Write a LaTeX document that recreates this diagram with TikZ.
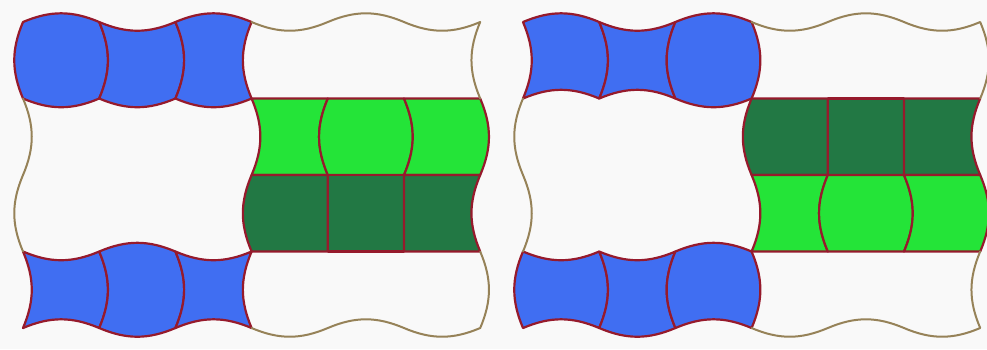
\documentclass[tikz,border=0pt]{standalone}
\usepackage{tikz}
\usepackage{xcolor}

\definecolor{paper}{RGB}{249,249,249}
\definecolor{tileblue}{RGB}{64,110,242}
\definecolor{lightgreen}{RGB}{36,228,56}
\definecolor{darkgreen}{RGB}{34,120,68}
\definecolor{edgered}{RGB}{150,26,44}
\definecolor{rimtan}{RGB}{150,130,88}

\begin{document}
\begin{tikzpicture}[
    x=76.2pt, y=76.5pt,
    tile/.style={draw=edgered, line width=2.2pt, line join=round},
    rim/.style={draw=rimtan, line width=2pt, line join=round, line cap=round},
    bulge/.style={bend left=23},
    dent/.style={bend right=23}
  ]
  \fill[paper] (-0.302,-0.275) rectangle (12.651,4.288);
  \useasboundingbox (-0.302,-0.275) rectangle (12.651,4.288);

  % left panel
  \draw[tile, fill=tileblue] (0,4) to[bulge] (1,4) to[bulge] (1,3) to[bulge] (0,3) to[bulge] cycle;
  \draw[tile, fill=tileblue] (1,4) to[dent] (2,4) to[bulge] (2,3) to[bulge] (1,3) to[dent] cycle;
  \draw[tile, fill=tileblue] (2,4) to[bulge] (3,4) to[dent] (3,3) to[bulge] (2,3) to[dent] cycle;
  \draw[tile, fill=tileblue] (0,1) to[dent] (1,1) to[bulge] (1,0) to[dent] (0,0) to[dent] cycle;
  \draw[tile, fill=tileblue] (1,1) to[bulge] (2,1) to[bulge] (2,0) to[bulge] (1,0) to[dent] cycle;
  \draw[tile, fill=tileblue] (2,1) to[dent] (3,1) to[dent] (3,0) to[dent] (2,0) to[dent] cycle;
  \draw[tile, fill=lightgreen] (3,3) -- (4,3) to[dent] (4,2) -- (3,2) to[dent] cycle;
  \draw[tile, fill=lightgreen] (4,3) -- (5,3) to[bulge] (5,2) -- (4,2) to[bulge] cycle;
  \draw[tile, fill=lightgreen] (5,3) -- (6,3) to[bulge] (6,2) -- (5,2) to[dent] cycle;
  \draw[tile, fill=darkgreen] (3,2) -- (4,2) -- (4,1) -- (3,1) to[bulge] cycle;
  \draw[tile, fill=darkgreen] (4,2) rectangle (5,1);
  \draw[tile, fill=darkgreen] (5,2) -- (6,2) to[dent] (6,1) -- (5,1) -- cycle;
  \draw[rim] (3,4) to[dent] (4,4) to[bulge] (5,4) to[dent] (6,4) to[dent] (6,3);
  \draw[rim] (0,3) to[bulge] (0,2) to[dent] (0,1);
  \draw[rim] (6,1) to[bulge] (6,0) to[bulge] (5,0) to[dent] (4,0) to[bulge] (3,0);

  % right panel
  \begin{scope}[xshift=500pt]
    \draw[tile, fill=tileblue] (0,4) to[bulge] (1,4) to[bulge] (1,3) to[dent] (0,3) to[dent] cycle;
    \draw[tile, fill=tileblue] (1,4) to[dent] (2,4) to[dent] (2,3) to[dent] (1,3) to[dent] cycle;
    \draw[tile, fill=tileblue] (2,4) to[bulge] (3,4) to[bulge] (3,3) to[bulge] (2,3) to[bulge] cycle;
    \draw[tile, fill=tileblue] (0,1) to[dent] (1,1) to[bulge] (1,0) to[dent] (0,0) to[bulge] cycle;
    \draw[tile, fill=tileblue] (1,1) to[dent] (2,1) to[dent] (2,0) to[bulge] (1,0) to[dent] cycle;
    \draw[tile, fill=tileblue] (2,1) to[bulge] (3,1) to[bulge] (3,0) to[dent] (2,0) to[bulge] cycle;
    \draw[tile, fill=darkgreen] (3,3) -- (4,3) -- (4,2) -- (3,2) to[bulge] cycle;
    \draw[tile, fill=darkgreen] (4,3) rectangle (5,2);
    \draw[tile, fill=darkgreen] (5,3) -- (6,3) to[dent] (6,2) -- (5,2) -- cycle;
    \draw[tile, fill=lightgreen] (3,2) -- (4,2) to[dent] (4,1) -- (3,1) to[dent] cycle;
    \draw[tile, fill=lightgreen] (4,2) -- (5,2) to[bulge] (5,1) -- (4,1) to[bulge] cycle;
    \draw[tile, fill=lightgreen] (5,2) -- (6,2) to[bulge] (6,1) -- (5,1) to[dent] cycle;
    \draw[rim] (3,4) to[dent] (4,4) to[bulge] (5,4) to[dent] (6,4) to[bulge] (6,3);
    \draw[rim] (0,3) to[dent] (0,2) to[bulge] (0,1);
    \draw[rim] (6,1) to[dent] (6,0) to[bulge] (5,0) to[dent] (4,0) to[bulge] (3,0);
  \end{scope}
\end{tikzpicture}
\end{document}
